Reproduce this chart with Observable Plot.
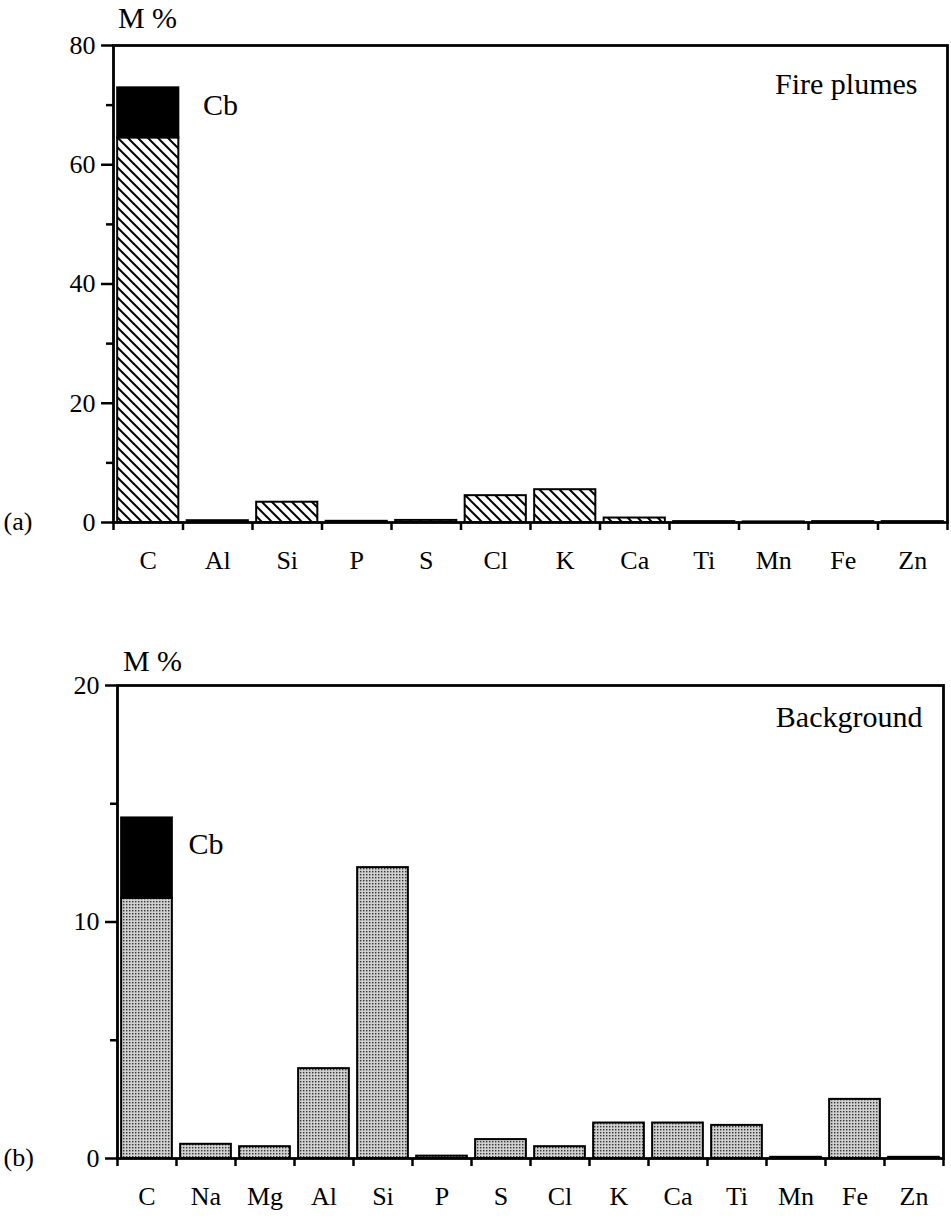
<!DOCTYPE html>
<html>
<head>
<meta charset="utf-8">
<script src="https://cdn.jsdelivr.net/npm/d3@7"></script>
<script src="https://cdn.jsdelivr.net/npm/@observablehq/plot@0.6"></script>
<style>
  html, body { margin: 0; padding: 0; background: #fff; }
  #chart > div, #chart svg { display: block; }
  #chart svg text { font-family: "Liberation Serif", Tinos, "Nimbus Roman", "DejaVu Serif", serif !important; }
</style>
</head>
<body>
<svg width="0" height="0" style="position:absolute">
  <defs>
    <pattern id="hatch" patternUnits="userSpaceOnUse" width="10" height="10">
      <rect width="10" height="10" fill="#fff"/>
      <path d="M-2,-2 L12,12 M-2,8 L2,12 M8,-2 L12,2" stroke="#000" stroke-width="2"/>
    </pattern>
    <pattern id="stipple" patternUnits="userSpaceOnUse" width="3" height="3">
      <rect width="3" height="3" fill="#d0d0d0"/>
      <rect x="0" y="0" width="1.4" height="1.4" fill="#333"/>
    </pattern>
  </defs>
</svg>
<div id="chart"></div>
<script>
// ---- Panel (a): Fire plumes ----
const elementsA = ["C", "Al", "Si", "P", "S", "Cl", "K", "Ca", "Ti", "Mn", "Fe", "Zn"];
const valuesA   = [64.5, 0.3, 3.4, 0.2, 0.35, 4.5, 5.5, 0.75, 0.15, 0.1, 0.15, 0.15];
const cbTotalA  = 72.9;   // C including black carbon (Cb)
const yTicksA = [0, 20, 40, 60, 80];
const yMinorA = [10, 30, 50, 70];

// ---- Panel (b): Background ----
const elementsB = ["C", "Na", "Mg", "Al", "Si", "P", "S", "Cl", "K", "Ca", "Ti", "Mn", "Fe", "Zn"];
const valuesB   = [11.0, 0.6, 0.5, 3.8, 12.3, 0.1, 0.8, 0.5, 1.5, 1.5, 1.4, 0.05, 2.5, 0.05];
const cbTotalB  = 14.4;
const yTicksB = [0, 10, 20];
const yMinorB = [5, 15];

const FONT = "Liberation Serif, Tinos, Nimbus Roman, DejaVu Serif, serif";
const noLabel = () => "";

function panel({elements, values, cbTotal, yMax, yTicks, yMinor, label, tag, cbY,
                height, marginLeft, marginRight, marginTop, marginBottom, inset,
                fill, labelDx, labelDy, cbDx, mDx, mDy}) {
  const n = elements.length;
  const rows = elements.map((e, i) => ({e, i, v: values[i]}));
  return Plot.plot({
    width: 951,
    height,
    marginLeft, marginRight, marginTop, marginBottom,
    style: {fontFamily: FONT, fontSize: "26px", background: "#fff", color: "#000", overflow: "visible"},
    x: {domain: [0, n], axis: null},
    y: {domain: [0, yMax], axis: null},
    marks: [
      Plot.rectY(rows, {x1: d => d.i + inset, x2: d => d.i + 1 - inset, y1: 0, y2: "v",
                        fill, stroke: "#000", strokeWidth: 2}),
      Plot.rectY([{i: 0, lo: values[0], hi: cbTotal}], {x1: d => d.i + inset, x2: d => d.i + 1 - inset,
                        y1: "lo", y2: "hi", fill: "#000", stroke: "#000", strokeWidth: 2}),
      Plot.frame({stroke: "#000", strokeWidth: 2.8}),
      Plot.axisY(yTicks, {tickSize: 12, tickPadding: 6, strokeWidth: 2.5, fontSize: 26, label: null}),
      Plot.axisY(yMinor, {tickSize: 7, tickFormat: noLabel, strokeWidth: 2.5, label: null}),
      Plot.axisX(d3.range(0, n + 1), {tickSize: 8, tickFormat: noLabel, strokeWidth: 2.5, label: null}),
      Plot.text(rows, {x: d => d.i + 0.5, frameAnchor: "bottom", dy: 38, text: "e",
                       fontSize: 26, fill: "#000", lineAnchor: "middle"}),
      Plot.text(["Cb"], {x: 1, y: cbY, dx: cbDx, textAnchor: "start", lineAnchor: "middle",
                         fontSize: 30, fill: "#000"}),
      Plot.text([label], {frameAnchor: "top-right", dx: labelDx, dy: labelDy, textAnchor: "end",
                          lineAnchor: "bottom", fontSize: 30, fill: "#000"}),
      Plot.text(["M %"], {frameAnchor: "top-left", dx: mDx, dy: mDy, textAnchor: "middle",
                          lineAnchor: "middle", fontSize: 30, fill: "#000"}),
      Plot.text([tag], {frameAnchor: "bottom-left", dx: -marginLeft + 3, dy: -1, textAnchor: "start",
                        lineAnchor: "middle", fontSize: 26, fill: "#000"})
    ]
  });
}

const chart = document.getElementById("chart");
chart.append(panel({
  elements: elementsA, values: valuesA, cbTotal: cbTotalA, yMax: 80,
  yTicks: yTicksA, yMinor: yMinorA, label: "Fire plumes", tag: "(a)", cbY: 70,
  height: 580, marginLeft: 113, marginRight: 4, marginTop: 45, marginBottom: 58,
  inset: 0.06, fill: "url(#hatch)", labelDx: -30, labelDy: 48, cbDx: 20, mDx: 34, mDy: -27
}));
chart.append(panel({
  elements: elementsB, values: valuesB, cbTotal: cbTotalB, yMax: 20,
  yTicks: yTicksB, yMinor: yMinorB, label: "Background", tag: "(b)", cbY: 13.3,
  height: 639, marginLeft: 117, marginRight: 8, marginTop: 105, marginBottom: 61,
  inset: 0.07, fill: "url(#stipple)", labelDx: -21, labelDy: 41, cbDx: 12, mDx: 35, mDy: -24
}));
</script>
</body>
</html>
